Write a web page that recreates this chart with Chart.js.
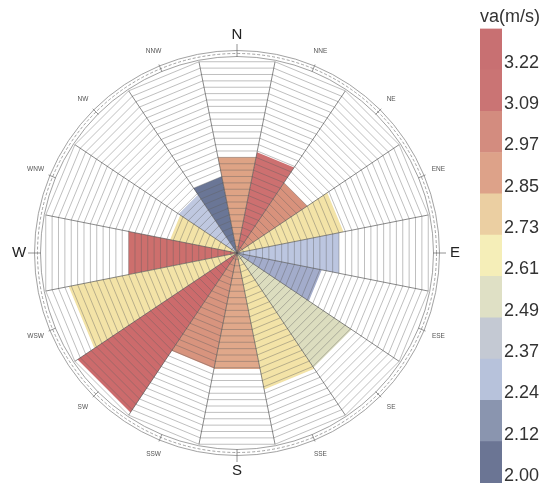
<!DOCTYPE html>
<html><head><meta charset="utf-8">
<script src="https://cdn.jsdelivr.net/npm/chart.js@4.4.0/dist/chart.umd.min.js"></script>
<style>
html,body{margin:0;padding:0;background:#fff;}
#wrap{position:relative;width:550px;height:487px;overflow:hidden;background:#fff;}
#rose{position:absolute;left:0;top:0;}
#bar{position:absolute;left:468px;top:0;}
</style></head><body>
<div id="wrap"><canvas id="rose" width="550" height="487"></canvas><canvas id="bar" width="82" height="487"></canvas></div>
<script>
// ---- data ----
const directions = ['N','NNE','NE','ENE','E','ESE','SE','SSE','S','SSW','SW','WSW','W','WNW','NW','NNW'];
const frequency  = [15, 15.8, 13, 16.7, 16, 13.3, 21.2, 21.4, 18.2, 18.1, 29.5, 26.4, 17, 10.5, 10.8, 12];
const ringMax = 30;
const colorbarTicks = ['2.00','2.12','2.24','2.37','2.49','2.61','2.73','2.85','2.97','3.09','3.22'];

// ---- styles ----
const sectorColors = ['#DEA385','#CD7070','#D8927C','#F3E3A7','#BCC6E0','#A3ACCB','#DCDDBF','#F3E3A7',
                      '#E0A88A','#D8947E','#CC6B6C','#F3E3A7','#CD6F6D','#F3E3A7','#BFC8E0','#6A7696'];
const colorbarColors = ['#6B7594','#8A95AF','#B7C2DB','#C4C9D3','#DFE0C5','#F5EEB8','#EBCFA2','#DDA289','#D38C7F','#CA7474','#C87072'];
const FONT = '"Liberation Sans", Arial, sans-serif';

const nDir = directions.length;
const datasets = frequency.map((v, k) => {
  const d = new Array(nDir).fill(0);
  d[k] = v; d[(k + 1) % nDir] = v;
  return {data: d, backgroundColor: sectorColors[k], borderWidth: 0, pointRadius: 0, pointHoverRadius: 0, fill: 'origin', tension: 0};
});

const compassPlugin = {
  id: 'compass',
  afterDraw(chart) {
    const s = chart.scales.r, ctx = chart.ctx;
    const cx = s.xCenter, cy = s.yCenter, R = s.getDistanceFromCenterForValue(s.max);
    ctx.save();
    ctx.lineWidth = 0.8;
    [[R + 1.5, []], [R + 4.5, [3, 2]], [R + 7.5, []]].forEach(([r, dash]) => {
      ctx.strokeStyle = '#8a8a8a';
      ctx.setLineDash(dash);
      ctx.beginPath(); ctx.arc(cx, cy, r, 0, 2 * Math.PI); ctx.stroke();
    });
    ctx.setLineDash([]);
    directions.forEach((name, i) => {
      const a = s.getIndexAngle(i) + Math.PI / nDir;
      const major = i % 4 === 0;
      const sx = Math.sin(a), sy = -Math.cos(a);
      const r0 = R + 1, r1 = major ? R + 14 : R + 9;
      ctx.strokeStyle = '#777';
      ctx.beginPath(); ctx.moveTo(cx + sx * r0, cy + sy * r0); ctx.lineTo(cx + sx * r1, cy + sy * r1); ctx.stroke();
      ctx.fillStyle = major ? '#222' : '#555';
      ctx.font = (major ? '15px ' : '6.5px ') + FONT;
      ctx.textAlign = 'center'; ctx.textBaseline = 'middle';
      const rl = R + 23;
      ctx.fillText(name, cx + sx * rl, cy + sy * rl);
    });
    ctx.restore();
  }
};

new Chart(document.getElementById('rose'), {
  type: 'radar',
  data: {labels: directions, datasets},
  options: {
    responsive: false, animation: false, events: [],
    layout: {padding: {left: 42, top: 58, right: 118, bottom: 39}},
    plugins: {legend: {display: false}, tooltip: {enabled: false}},
    scales: {
      r: {
        min: 0, max: ringMax, startAngle: -180 / nDir, z: 1,
        ticks: {display: false, stepSize: 1, z: 1, maxTicksLimit: 100},
        grid: {circular: false, color: 'rgba(95,95,95,0.5)', lineWidth: 0.8, z: 1},
        angleLines: {display: true, color: 'rgba(80,80,80,0.75)', lineWidth: 0.9},
        pointLabels: {display: false}
      }
    }
  },
  plugins: [compassPlugin]
});

new Chart(document.getElementById('bar'), {
  type: 'bar',
  data: {labels: [''], datasets: colorbarColors.map(c => ({data: [1], backgroundColor: c, borderWidth: 0, barPercentage: 1, categoryPercentage: 1}))},
  options: {
    responsive: false, animation: false, events: [],
    layout: {padding: {left: 12, right: 0, top: 0, bottom: 4}},
    plugins: {
      legend: {display: false}, tooltip: {enabled: false},
      title: {display: true, text: 'va(m/s)', align: 'start', color: '#333', font: {size: 18, family: FONT, weight: 'normal'}, padding: {top: 6, bottom: 1}}
    },
    scales: {
      x: {display: false, stacked: true},
      y: {
        stacked: true, min: 0, max: colorbarColors.length, position: 'right',
        grid: {display: false, drawTicks: false}, border: {display: false},
        ticks: {padding: 2, color: '#333', font: {size: 18, family: FONT}, labelOffset: -7,
                callback: (v) => colorbarTicks[Math.round(v)] ?? ''},
        afterBuildTicks: (s) => { s.ticks = colorbarTicks.map((_, i) => ({value: i})); },
        afterFit: (s) => { s.width = 48; s.paddingTop = 0; s.paddingBottom = 0; }
      }
    }
  }
});
</script>
</body></html>
